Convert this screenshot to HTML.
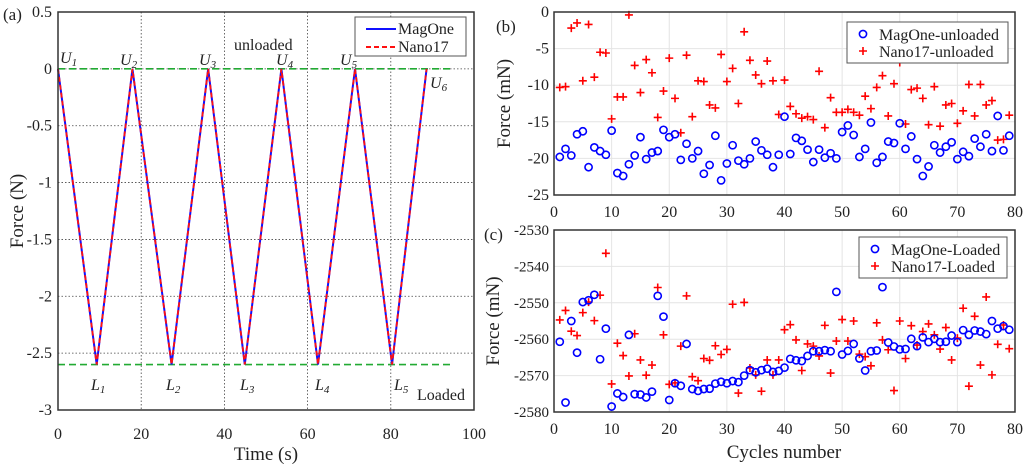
<!DOCTYPE html>
<html><head><meta charset="utf-8">
<style>
body{margin:0;background:#fff;width:1024px;height:464px;overflow:hidden}
svg{font-family:"Liberation Serif",serif}
</style></head>
<body>
<svg id="s" width="1024" height="464" viewBox="0 0 1024 464" xmlns="http://www.w3.org/2000/svg"></svg>
<script>
// Panel (a) data
const aTimes=[0,9.3,17.9,27.3,36.1,44.9,53.7,62.5,71.4,80.3,88.6];
const aForces=[0,-2.6,0,-2.6,0,-2.6,0,-2.6,0,-2.6,0];
const aXTicks=[0,20,40,60,80,100];
const aYTicks=[0.5,0,-0.5,-1,-1.5,-2,-2.5,-3];
const aYTickLabels=["0.5","0","-0.5","-1","-1.5","-2","-2.5","-3"];
// Panel (b) data
const bMag=[-19.8,-18.7,-19.6,-16.7,-16.3,-21.2,-18.5,-19,-19.5,-16.2,-22,-22.4,-20.8,-19.6,-17.1,-20.1,-19.2,-19,-16.1,-17.1,-16.7,-20.2,-18,-20,-19,-22.1,-20.9,-16.9,-23,-20.7,-18.2,-20.3,-20.8,-20,-17.7,-18.9,-19.5,-21.2,-19.5,-14.3,-19.4,-17.2,-17.6,-18.8,-20.5,-18.8,-19.9,-19.3,-20,-16.4,-15.5,-16.8,-19.8,-18.7,-15.1,-20.6,-19.8,-17.7,-17.9,-15.2,-18.7,-17,-20.1,-22.4,-21.1,-18.2,-19.2,-18.4,-17.8,-20.1,-19.1,-19.7,-17.3,-18.4,-16.7,-19,-14.2,-18.9,-16.9];
const bNano=[-10.3,-10.2,-2.2,-1.5,-9.4,-1.7,-8.9,-5.5,-5.6,-14.6,-11.6,-11.6,-0.4,-7.3,-11,-6.5,-8.3,-14.4,-10.8,-6.3,-11.8,-16.5,-5.9,-14.3,-9.4,-9.5,-12.7,-13.1,-5.8,-9.5,-7.7,-12.5,-2.7,-6.6,-8.6,-9.8,-6.7,-9.4,-14,-9.3,-12.9,-13.9,-14.5,-14.3,-14.7,-8.1,-15.8,-11.7,-13.7,-13.7,-13.3,-13.7,-14.1,-11.5,-13.2,-10.3,-8.7,-14.2,-9.8,-6.9,-15.3,-10.6,-10.4,-11.8,-15.4,-10.2,-15.6,-12.7,-12.5,-15.2,-13.5,-9.9,-14.2,-9.9,-12.7,-12.1,-17.5,-17.4,-14.1];
const bXTicks=[0,10,20,30,40,50,60,70,80];
const bYTicks=[0,-5,-10,-15,-20,-25];
// Panel (c) data
const cMag=[-2560.7,-2577.4,-2555,-2563.7,-2549.8,-2549.3,-2547.8,-2565.5,-2557.1,-2578.5,-2574.9,-2575.9,-2558.8,-2575.1,-2575.2,-2576,-2574.4,-2548.1,-2553.8,-2576.7,-2572.1,-2572.8,-2561.3,-2573.7,-2574.2,-2573.7,-2573.6,-2572.2,-2571.7,-2572.1,-2571.5,-2571.8,-2570,-2568.5,-2569.1,-2568.5,-2568.1,-2569,-2568.7,-2567.8,-2565.4,-2565.8,-2566,-2564.6,-2563.3,-2563.3,-2563,-2563.3,-2547,-2564.2,-2563.2,-2561.3,-2565.3,-2568.6,-2563.3,-2563.1,-2545.7,-2560.9,-2562,-2562.8,-2562.7,-2559.9,-2561.9,-2559.5,-2560.8,-2559.9,-2560.8,-2560.7,-2559,-2560.8,-2557.5,-2558.8,-2557.6,-2557.9,-2558.6,-2555,-2557.1,-2556.4,-2557.4];
const cNano=[-2554.7,-2552.1,-2557.8,-2559,-2552.7,-2549.8,-2554.9,-2547.9,-2536.4,-2572.3,-2561.1,-2564.5,-2570.1,-2558.5,-2565.7,-2569.9,-2567.1,-2545.8,-2558.8,-2572.4,-2572,-2561.9,-2548.1,-2570.3,-2571.4,-2565.3,-2565.8,-2561.8,-2564.2,-2562.8,-2550.4,-2574.8,-2549.9,-2567.9,-2569.8,-2574.3,-2565.7,-2569.8,-2565.7,-2557.4,-2556,-2560.2,-2568.6,-2561.3,-2561.9,-2564.6,-2556.2,-2569.3,-2560.5,-2554.6,-2560.5,-2555,-2564.1,-2564.8,-2567.3,-2555.5,-2560.2,-2562.9,-2574.1,-2555,-2565.3,-2556.3,-2561.6,-2557.9,-2555.8,-2558.8,-2562.7,-2556.8,-2565.7,-2559.7,-2551.5,-2572.9,-2553.7,-2567.1,-2548.4,-2569.8,-2561.4,-2556.1,-2562.6];
const cYTicks=[-2530,-2540,-2550,-2560,-2570,-2580];

const NS="http://www.w3.org/2000/svg";
const svg=document.getElementById('s');
function el(tag,attrs,parent,text){const e=document.createElementNS(NS,tag);for(const k in attrs)e.setAttribute(k,attrs[k]);if(text!==undefined)e.textContent=text;(parent||svg).appendChild(e);return e;}
function lin(d0,d1,r0,r1){return v=>r0+(v-d0)*(r1-r0)/(d1-d0);}

// ---------- Panel A ----------
const A={l:58,r:474,t:12,b:410};
const ax=lin(0,100,A.l,A.r), ay=lin(0.5,-3,A.t,A.b);
const ga=el('g',{});  
aXTicks.forEach(v=>{ if(v>0&&v<100){const g=el('line',{x1:ax(v),x2:ax(v),y1:A.t,y2:A.b,stroke:'#444','stroke-width':0.8,'stroke-dasharray':'1.5,2'},ga);}
 const t=el('text',{x:ax(v),y:439,'font-size':16,'text-anchor':'middle',fill:'#222'},ga,String(v));});
aYTicks.forEach((v,i)=>{ if(v<0.5&&v>-3){const g=el('line',{x1:A.l,x2:A.r,y1:ay(v),y2:ay(v),stroke:'#444','stroke-width':0.8,'stroke-dasharray':'1.5,2'},ga);}
 const t=el('text',{x:52,y:ay(v)+5,'font-size':16,'text-anchor':'end',fill:'#222'},ga,aYTickLabels[i]);});
[0,-2.6].forEach(v=>{const g=el('line',{x1:ax(0),x2:ax(94.5),y1:ay(v),y2:ay(v),stroke:'#22aa33','stroke-width':1.6,'stroke-dasharray':'7,4'},ga);});
const aPts=aTimes.map((t,i)=>ax(t)+','+ay(aForces[i])).join(' ');
let p=el('polyline',{points:aPts,fill:'none',stroke:'#1010ff','stroke-width':2},ga);
p=el('polyline',{points:aPts,fill:'none',stroke:'#ff1010','stroke-width':1.8,'stroke-dasharray':'5,3'},ga);
let r=el('rect',{x:A.l,y:A.t,width:A.r-A.l,height:A.b-A.t,fill:'none',stroke:'#333','stroke-width':1.5},ga);
const uPos=[[60,63],[120,65],[199,65],[276,65],[340,65],[430,88]];
uPos.forEach((q,i)=>{const t=el('text',{x:q[0],y:q[1],'font-size':16,'font-style':'italic',fill:'#222'},ga);t.innerHTML='U<tspan font-size="11" dy="3">'+(i+1)+'</tspan>';});
const lPos=[91,166,240,315,394];
lPos.forEach((x,i)=>{const t=el('text',{x:x,y:390,'font-size':16,'font-style':'italic',fill:'#222'},ga);t.innerHTML='L<tspan font-size="11" dy="3">'+(i+1)+'</tspan>';});
let t=el('text',{x:234,y:50,'font-size':16,fill:'#222'},ga,'unloaded');
t=el('text',{x:417,y:400,'font-size':16,fill:'#222'},ga,'Loaded');
const la=el('g',{},ga);
el('rect',{x:355,y:17,width:111,height:39,fill:'#fff',stroke:'#555','stroke-width':1},la);
el('line',{x1:366,x2:396,y1:29,y2:29,stroke:'#1010ff','stroke-width':2},la);
el('line',{x1:366,x2:396,y1:47,y2:47,stroke:'#ff1010','stroke-width':2,'stroke-dasharray':'5,3'},la);
el('text',{x:398,y:34,'font-size':16,fill:'#222'},la,'MagOne');
el('text',{x:398,y:52,'font-size':16,fill:'#222'},la,'Nano17');
t=el('text',{x:0,y:0,'font-size':19,'text-anchor':'middle',fill:'#222',transform:'translate(23,211) rotate(-90)'},ga,'Force (N)');
t=el('text',{x:266,y:460,'font-size':19,'text-anchor':'middle',fill:'#222'},ga,'Time (s)');
t=el('text',{x:3,y:20,'font-size':17,fill:'#222'},ga,'(a)');

// ---------- scatter panels ----------
function scatterPanel(name,P,y0,y1,yTicks,mag,nano,leg,label,labelPos,titleX,tickFont){
  const g=el('g',{});
  const x=lin(0,80,P.l,P.r), y=lin(y0,y1,P.t,P.b);
  bXTicks.forEach(v=>{ if(v>0&&v<80){const gl=el('line',{x1:x(v),x2:x(v),y1:P.t,y2:P.b,stroke:'#e4e4e4','stroke-width':1},g);}
    const tt=el('text',{x:x(v),y:P.b+22,'font-size':16,'text-anchor':'middle',fill:'#222'},g,String(v));});
  yTicks.forEach(v=>{ if(v<y0&&v>y1){const gl=el('line',{x1:P.l,x2:P.r,y1:y(v),y2:y(v),stroke:'#e4e4e4','stroke-width':1},g);}
    const tt=el('text',{x:P.l-5,y:y(v)+5,'font-size':tickFont,'text-anchor':'end',fill:'#222'},g,String(v));});
  nano.forEach((v,i)=>{const cx=x(i+1),cy=y(v);const pp=el('path',{d:`M${cx-4},${cy}H${cx+4}M${cx},${cy-4}V${cy+4}`,stroke:'#ff0000','stroke-width':1.6,fill:'none'},g);
    });
  mag.forEach((v,i)=>{const c=el('circle',{cx:x(i+1),cy:y(v),r:3.6,fill:'none',stroke:'#0000ff','stroke-width':1.6},g);
    });
  const fr=el('rect',{x:P.l,y:P.t,width:P.r-P.l,height:P.b-P.t,fill:'none',stroke:'#333','stroke-width':1.5},g);
  const lg=el('g',{},g);
  el('rect',{x:leg.x,y:leg.y,width:leg.w,height:41,fill:'#fff',stroke:'#555','stroke-width':1},lg);
  el('circle',{cx:leg.x+16,cy:leg.y+12,r:3.6,fill:'none',stroke:'#0000ff','stroke-width':1.6},lg);
  const px=leg.x+16,py=leg.y+29;
  el('path',{d:`M${px-4},${py}H${px+4}M${px},${py-4}V${py+4}`,stroke:'#ff0000','stroke-width':1.6},lg);
  el('text',{x:leg.x+32,y:leg.y+18,'font-size':16,fill:'#222'},lg,leg.t1);
  el('text',{x:leg.x+32,y:leg.y+35,'font-size':16,fill:'#222'},lg,leg.t2);
  const yt=el('text',{x:0,y:0,'font-size':19,'text-anchor':'middle',fill:'#222',transform:`translate(${titleX},${(P.t+P.b)/2}) rotate(-90)`},g,'Force (mN)');
  
  const pl=el('text',{x:labelPos[0],y:labelPos[1],'font-size':17,fill:'#222'},g,label);
  return g;
}
scatterPanel('panel-b',{l:554,r:1015,t:12,b:195},0,-25,bYTicks,bMag,bNano,{x:847,y:22,w:161,t1:'MagOne-unloaded',t2:'Nano17-unloaded'},'(b)',[496,32],510,16);
scatterPanel('panel-c',{l:554,r:1015,t:230,b:412},-2530,-2580,cYTicks,cMag,cNano,{x:859,y:237,w:148,t1:'MagOne-Loaded',t2:'Nano17-Loaded'},'(c)',[484,240],499,15);
t=el('text',{x:784,y:458,'font-size':19,'text-anchor':'middle',fill:'#222'},null,'Cycles number');
</script>
</body></html>
